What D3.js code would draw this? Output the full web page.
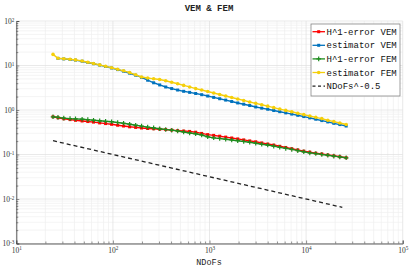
<!DOCTYPE html>
<html><head><meta charset="utf-8">
<script src="https://cdn.jsdelivr.net/npm/d3@7"></script>
<style>body{margin:0;background:#fff}svg{display:block}</style>
</head><body><svg id="c" width="409" height="273"></svg>
<script>
// ---- data ----
const ndofs = [24,27,31,36,41,48,55,63,73,84,97,112,129,149,172,198,229,264,305,352,406,468,540,623,719,830,958,1105,1275,1471,1698,1959,2260,2608,3010,3473,4007,4624,5336,6157,7105,8198,9460,10916,12596,14535,16772,19354,22333,26000];
const h1VEM = [0.704,0.671,0.634,0.608,0.587,0.566,0.551,0.535,0.513,0.495,0.477,0.455,0.437,0.419,0.406,0.394,0.384,0.378,0.370,0.363,0.353,0.344,0.337,0.330,0.317,0.298,0.280,0.269,0.258,0.246,0.235,0.224,0.213,0.202,0.193,0.182,0.172,0.163,0.153,0.144,0.135,0.127,0.119,0.113,0.107,0.103,0.0979,0.0935,0.0892,0.0847];
const estVEM = [null,14.44,14.07,13.64,13.22,12.49,11.68,10.98,10.21,9.50,8.79,8.09,7.44,6.71,6.05,5.40,4.67,4.09,3.66,3.29,3.03,2.81,2.63,2.49,2.35,2.21,2.06,1.92,1.79,1.67,1.55,1.44,1.35,1.26,1.17,1.10,1.04,0.974,0.916,0.861,0.809,0.760,0.711,0.665,0.621,0.578,0.540,0.502,0.470,0.437];
const h1FEM = [0.704,0.682,0.658,0.641,0.631,0.621,0.608,0.590,0.572,0.557,0.546,0.524,0.503,0.480,0.455,0.435,0.413,0.396,0.378,0.365,0.352,0.337,0.320,0.304,0.292,0.274,0.250,0.237,0.229,0.220,0.212,0.204,0.196,0.188,0.179,0.170,0.163,0.154,0.145,0.137,0.130,0.122,0.115,0.109,0.105,0.100,0.0960,0.0920,0.0883,0.0843];
const estFEM = [17.76,14.59,14.22,13.78,13.36,12.62,11.80,11.09,10.31,9.59,8.88,8.21,7.60,6.92,6.18,5.51,5.24,5.02,4.85,4.55,4.21,3.88,3.57,3.30,3.03,2.81,2.60,2.41,2.23,2.06,1.91,1.77,1.64,1.51,1.41,1.31,1.22,1.13,1.05,0.98,0.911,0.847,0.788,0.733,0.685,0.641,0.590,0.549,0.510,0.472];
const refN = [24, 23700];
const refVal = [0.204, 0.0065];
const seriesNames = ["H^1-error VEM","estimator VEM","H^1-error FEM","estimator FEM","NDoFs^-0.5"];
const xTicks = [1e1,1e2,1e3,1e4,1e5];
const yTicks = [1e-3,1e-2,1e-1,1e0,1e1,1e2];
const titleText = "VEM & FEM";
const xLabelText = "NDoFs";

// ---- layout ----
const svg = d3.select("#c");
const L = 16.3, R = 402.7, T = 21, B = 243.5;
const x = d3.scaleLog().domain([10,1e5]).range([L,R]);
const y = d3.scaleLog().domain([1e-3,1e2]).range([B,T]);

const minorX = [], minorY = [];
for (let e=1;e<5;e++) for (let k=2;k<10;k++) minorX.push(k*Math.pow(10,e));
for (let e=-3;e<2;e++) for (let k=2;k<10;k++) minorY.push(k*Math.pow(10,e));

// grid
const g = svg.append("g");
g.selectAll(".mx").data(minorX).join("line").attr("x1",d=>x(d)).attr("x2",d=>x(d)).attr("y1",T).attr("y2",B).attr("stroke","#efefef").attr("stroke-width",0.7);
g.selectAll(".my").data(minorY).join("line").attr("y1",d=>y(d)).attr("y2",d=>y(d)).attr("x1",L).attr("x2",R).attr("stroke","#efefef").attr("stroke-width",0.7);
g.selectAll(".Mx").data(xTicks).join("line").attr("x1",d=>x(d)).attr("x2",d=>x(d)).attr("y1",T).attr("y2",B).attr("stroke","#e0e0e0").attr("stroke-width",0.7);
g.selectAll(".My").data(yTicks).join("line").attr("y1",d=>y(d)).attr("y2",d=>y(d)).attr("x1",L).attr("x2",R).attr("stroke","#e0e0e0").attr("stroke-width",0.7);

// axes
function supLabels(sel){
  sel.selectAll(".tick text").each(function(d){
    const t=d3.select(this); t.text(null);
    t.append("tspan").text("10");
    t.append("tspan").attr("dy","-0.45em").attr("font-size","5.2px").text(Math.round(Math.log10(d)));
  });
}
const axColor = "#4a4a4a";
const xa = svg.append("g").attr("transform",`translate(0,${B})`)
  .call(d3.axisBottom(x).tickValues(xTicks).tickSize(-3).tickPadding(4).tickFormat(()=> "x"));
xa.call(supLabels);
svg.append("g").attr("transform",`translate(0,${B})`)
  .call(d3.axisBottom(x).tickValues(minorX).tickSize(-2).tickFormat(()=>"")).call(s=>s.select(".domain").remove());
const ya = svg.append("g").attr("transform",`translate(${L},0)`)
  .call(d3.axisLeft(y).tickValues(yTicks).tickSize(-3).tickPadding(2).tickFormat(()=> "x"));
ya.call(supLabels);
svg.append("g").attr("transform",`translate(${L},0)`)
  .call(d3.axisLeft(y).tickValues(minorY).tickSize(-2).tickFormat(()=>"")).call(s=>s.select(".domain").remove());
svg.selectAll(".domain").attr("stroke",axColor).attr("stroke-width",0.9);
svg.selectAll(".tick line").attr("stroke",axColor).attr("stroke-width",0.6);
svg.selectAll(".tick text").attr("fill","#333").attr("font-family","Liberation Serif, serif").attr("font-size","7.5px");

// series
const styles = [
  {vals:h1VEM, color:"#ff0000", marker:"square"},
  {vals:estVEM, color:"#0072bd", marker:"square"},
  {vals:h1FEM, color:"#1e8c1e", marker:"plus"},
  {vals:estFEM, color:"#f5cf0a", marker:"circle"}
];
const line = d3.line().defined(d=>d[1]!=null).x(d=>x(d[0])).y(d=>y(d[1]));
function drawMarker(sel, m, color){
  if (m==="square") sel.append("rect").attr("x",-1.5).attr("y",-1.5).attr("width",3).attr("height",3).attr("fill",color);
  else if (m==="circle") sel.append("circle").attr("r",1.8).attr("fill",color);
  else if (m==="plus") sel.append("path").attr("d","M-2.3,0H2.3M0,-2.3V2.3").attr("stroke",color).attr("stroke-width",1.2);
}
const order = [1,3,0,2];
order.forEach(i=>{
  const s = styles[i];
  const pts = ndofs.map((n,j)=>[n,s.vals[j]]);
  svg.append("path").datum(pts).attr("d",line).attr("fill","none").attr("stroke",s.color).attr("stroke-width",1.4);
  pts.filter(p=>p[1]!=null).forEach(p=>{
    const gg = svg.append("g").attr("transform",`translate(${x(p[0])},${y(p[1])})`);
    drawMarker(gg, s.marker, s.color);
  });
});
svg.append("path").datum(refN.map((n,j)=>[n,refVal[j]])).attr("d",line).attr("fill","none")
  .attr("stroke","#222").attr("stroke-width",1.3).attr("stroke-dasharray","4,3");

// title & label
svg.append("text").attr("x",209).attr("y",11).attr("text-anchor","middle").attr("font-family","Liberation Mono, monospace")
  .attr("font-weight","bold").attr("font-size","9px").attr("fill","#222").text(titleText);
svg.append("text").attr("x",209).attr("y",265).attr("text-anchor","middle").attr("font-family","Liberation Mono, monospace")
  .attr("font-size","8.5px").attr("fill","#222").text(xLabelText);

// legend
const lg = svg.append("g");
lg.append("rect").attr("x",311).attr("y",24).attr("width",89).attr("height",72).attr("fill","#fff").attr("stroke","#777").attr("stroke-width",0.7);
seriesNames.forEach((name,i)=>{
  const cy = 31.7 + i*13.6;
  const row = lg.append("g");
  if (i<4){
    const s = styles[i];
    row.append("line").attr("x1",312.5).attr("x2",325).attr("y1",cy).attr("y2",cy).attr("stroke",s.color).attr("stroke-width",1.3);
    const mg = row.append("g").attr("transform",`translate(318.7,${cy})`);
    drawMarker(mg, s.marker, s.color);
  } else {
    row.append("line").attr("x1",312.5).attr("x2",325).attr("y1",cy).attr("y2",cy).attr("stroke","#222").attr("stroke-width",1.3).attr("stroke-dasharray","3,2.5");
  }
  row.append("text").attr("x",326.5).attr("y",cy+3).attr("font-family","Liberation Mono, monospace").attr("font-size","9px").attr("fill","#111").text(name);
});
</script></body></html>
